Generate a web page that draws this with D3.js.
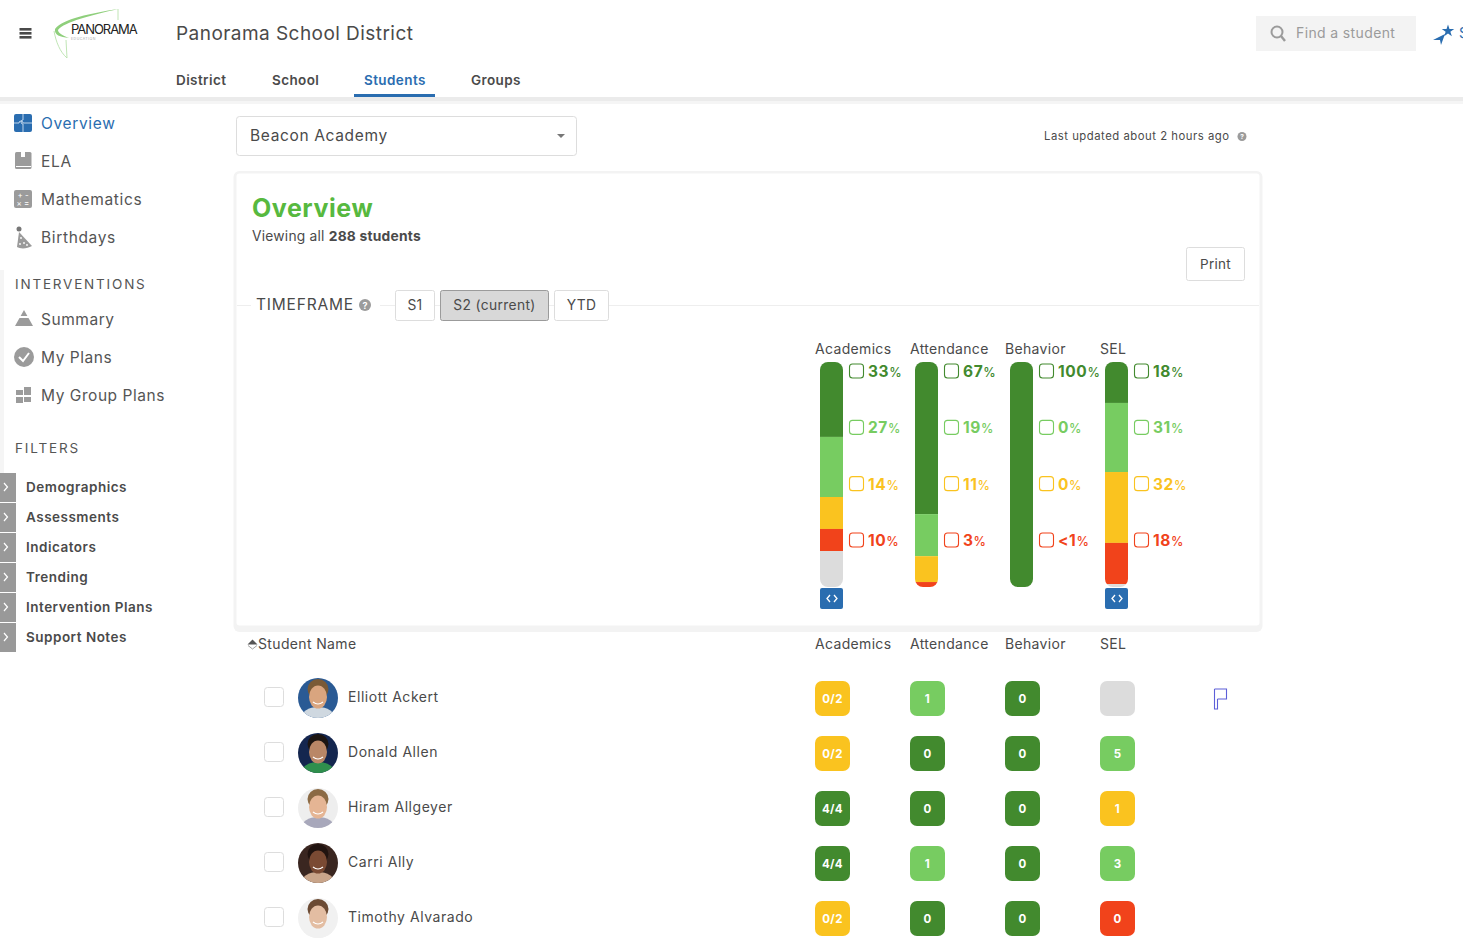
<!DOCTYPE html>
<html>
<head>
<meta charset="utf-8">
<style>
    html, body { margin: 0; padding: 0; background: #fff; overflow: hidden; }
    svg { display: block; }
    text { font-family: Inter, "Open Sans", sans-serif; fill: #4a4a4a; }
</style>
</head>
<body>
<div id="page"></div>
<script src="https://cdn.jsdelivr.net/npm/d3@7"></script>
<script>
// chart values
var measures = ["Academics", "Attendance", "Behavior", "SEL"];
var bands = ["dark", "light", "yellow", "red", "none"];

var academicsShare = [33.3, 26.7, 14.2, 9.8, 16];
var attendanceShare = [67.6, 18.7, 11.5, 2.2, 0];
var behaviorShare = [100, 0, 0, 0, 0];
var selShare = [18.2, 30.7, 31.5, 18.3, 1.3];

var academicsLabels = ["33", "27", "14", "10"];
var attendanceLabels = ["67", "19", "11", "3"];
var behaviorLabels = ["100", "0", "0", "<1"];
var selLabels = ["18", "31", "32", "18"];

var students = ["Elliott Ackert", "Donald Allen", "Hiram Allgeyer", "Carri Ally", "Timothy Alvarado"];
var academicsBadges = ["0/2", "0/2", "4/4", "4/4", "0/2"];
var attendanceBadges = ["1", "0", "0", "1", "0"];
var behaviorBadges = ["0", "0", "0", "0", "0"];
var selBadges = ["", "5", "1", "3", "0"];
var academicsBands = ["yellow", "yellow", "dark", "dark", "yellow"];
var attendanceBands = ["light", "dark", "dark", "light", "dark"];
var behaviorBands = ["dark", "dark", "dark", "dark", "dark"];
var selBands = ["none", "light", "yellow", "light", "red"];

var avatarBack = ["#2a5a94", "#14264f", "#eeeeee", "#3a2620", "#f1f1f1"];
var avatarSkin = ["#d9a57f", "#b98767", "#e5b594", "#7a4a33", "#e3bda2"];
var avatarHair = ["#7a5a36", "#1c1512", "#8b6a44", "#20130f", "#6b4a33"];
var avatarShirt = ["#cfd8e0", "#2f8f4d", "#a8a8bb", "#c9a58a", "#f1f1f1"];

var topTabs = ["District", "School", "Students", "Groups"];
var mainNav = ["Overview", "ELA", "Mathematics", "Birthdays"];
var planNav = ["Summary", "My Plans", "My Group Plans"];
var filters = ["Demographics", "Assessments", "Indicators", "Trending", "Intervention Plans", "Support Notes"];
var timeframes = ["S1", "S2 (current)", "YTD"];

var colors = { dark: "#428a2e", light: "#77cc61", yellow: "#fac31f", red: "#f1431b", none: "#dcdcdc" };
var blue = "#2a6db0";
var iconGrey = "#9b9b9b";

var shares = [academicsShare, attendanceShare, behaviorShare, selShare];
var labels = [academicsLabels, attendanceLabels, behaviorLabels, selLabels];
var badgeText = [academicsBadges, attendanceBadges, behaviorBadges, selBadges];
var badgeBand = [academicsBands, attendanceBands, behaviorBands, selBands];

var svg = d3.select("#page").append("svg").attr("width", 1463).attr("height", 938);
var defs = svg.append("defs");

function label(g, x, y, str, size, opts) {
    opts = opts || {};
    return g.append("text")
        .attr("x", x).attr("y", y)
        .attr("font-size", size)
        .attr("font-weight", opts.weight || 400)
        .attr("text-anchor", opts.anchor || "start")
        .style("letter-spacing", (opts.spacing === undefined ? 0.3 : opts.spacing) + "px")
        .style("fill", opts.fill || "#4a4a4a")
        .text(str);
}

// ---- header
var header = svg.append("g");
header.selectAll("rect.burger").data([0, 1, 2]).enter().append("rect")
    .attr("x", 19.5).attr("y", function (d) { return 28 + d * 4; })
    .attr("width", 12).attr("height", 2.6).attr("fill", "#4a4a4a");

// logo
header.append("path")
    .attr("d", "M118 9 C92 13 62 19 55 29 C54 35 60 37 69 38 C62 35 58 33 58 30 C64 22 92 15 118 9 Z")
    .attr("fill", "#8fcf7c");
header.append("path")
    .attr("d", "M54 31 C56 42 60 52 67 58 L66 40 M118 9 V20")
    .attr("fill", "none").attr("stroke", "#b9e2ad").attr("stroke-width", 0.9);
label(header, 71, 34, "PANORAMA", 13, { spacing: -1.05, fill: "#222" });
label(header, 71, 39.5, "EDUCATION", 3.5, { spacing: 0.5, fill: "#aaa" });

label(header, 176, 40, "Panorama School District", 19, { spacing: 0.45 });

var tabX = d3.scaleOrdinal().domain(topTabs).range([176, 272, 364, 471]);
topTabs.forEach(function (t) {
    label(header, tabX(t), 85, t, 13.5, { weight: 600, fill: t === "Students" ? blue : "#4a4a4a", spacing: 0.4 });
});
header.append("rect").attr("x", 354).attr("y", 94).attr("width", 81).attr("height", 3).attr("fill", blue);
header.append("rect").attr("x", 0).attr("y", 97).attr("width", 1463).attr("height", 4).attr("fill", "#ebebeb");
header.append("rect").attr("x", 0).attr("y", 101).attr("width", 1463).attr("height", 3).attr("fill", "#f5f5f5");

// search box
header.append("rect").attr("x", 1256).attr("y", 16).attr("width", 160).attr("height", 35).attr("fill", "#f3f3f3");
header.append("circle").attr("cx", 1277).attr("cy", 32).attr("r", 5.5)
    .attr("fill", "none").attr("stroke", iconGrey).attr("stroke-width", 2);
header.append("line").attr("x1", 1281).attr("y1", 36).attr("x2", 1285).attr("y2", 41)
    .attr("stroke", iconGrey).attr("stroke-width", 2.4);
label(header, 1296, 38, "Find a student", 14, { fill: "#9b9b9b", spacing: 0.37 });

// star
header.append("path")
    .attr("d", d3.symbol().type(d3.symbolStar).size(48)())
    .attr("transform", "translate(1448,31)").attr("fill", blue);
header.append("path").attr("d", "M1433 40 L1445 34 L1441 45 L1440 40 Z").attr("fill", blue);
label(header, 1459, 38, "S", 14, { fill: blue });

// ---- sidebar
var side = svg.append("g");
side.append("rect").attr("x", 0).attr("y", 270).attr("width", 4).attr("height", 205).attr("fill", "#f5f5f5");

var navY = d3.scalePoint().domain(mainNav).range([123, 237]);
mainNav.forEach(function (n) {
    label(side, 41, navY(n) + 6, n, 15.5, { fill: n === "Overview" ? blue : "#555", spacing: 0.65 });
});
// puzzle icon
side.append("rect").attr("x", 14).attr("y", 114).attr("width", 18).attr("height", 18).attr("rx", 2).attr("fill", blue);
side.append("path").attr("d", "M23 114 V120 a2 2 0 0 0 0 4 V132 M14 123 H19 a2 2 0 0 1 4 0 H32")
    .attr("fill", "none").attr("stroke", "#cfe0f2").attr("stroke-width", 0.9);
// book icon
side.append("rect").attr("x", 15).attr("y", 152).attr("width", 16.5).attr("height", 17).attr("rx", 1.5).attr("fill", iconGrey);
side.append("rect").attr("x", 21).attr("y", 152).attr("width", 4).attr("height", 5).attr("fill", "#fff");
side.append("rect").attr("x", 16).attr("y", 166).attr("width", 15).attr("height", 1).attr("fill", "#fff");
side.append("rect").attr("x", 14).attr("y", 190).attr("width", 18).attr("height", 18).attr("rx", 2).attr("fill", iconGrey);
side.selectAll("text.mth").data(["+ -", "× ="]).enter().append("text")
    .attr("x", 23).attr("y", function (d, i) { return 198 + i * 8; })
    .attr("text-anchor", "middle").attr("font-size", 8).style("fill", "#fff").text(function (d) { return d; });
// party hat
side.append("path").attr("d", "M19 232 L32 246 C27 249 20 249 17 247 Z").attr("fill", iconGrey);
side.append("circle").attr("cx", 19).attr("cy", 229).attr("r", 2.5).attr("fill", "#777");
side.selectAll("circle.dot").data([[21, 238], [24, 243], [20, 244], [27, 245]]).enter().append("circle")
    .attr("cx", function (d) { return d[0]; }).attr("cy", function (d) { return d[1]; })
    .attr("r", 0.9).attr("fill", "#fff");

label(side, 15, 289, "INTERVENTIONS", 13.5, { fill: "#555", spacing: 1.8 });
var planY = d3.scalePoint().domain(planNav).range([319, 395]);
planNav.forEach(function (n) {
    label(side, 41, planY(n) + 6, n, 15.5, { fill: "#555", spacing: 0.55 });
});
side.append("path").attr("d", "M24 310 L33 326 L15 326 Z").attr("fill", iconGrey);
side.append("rect").attr("x", 15).attr("y", 316).attr("width", 18).attr("height", 2).attr("fill", "#fff");
side.append("circle").attr("cx", 24).attr("cy", 357).attr("r", 10).attr("fill", iconGrey);
side.append("path").attr("d", "M19 357 L23 361 L29 353").attr("fill", "none").attr("stroke", "#fff").attr("stroke-width", 2);
side.selectAll("rect.grp").data([[16, 390, 7, 5], [24, 387, 7, 8], [16, 397, 7, 6], [24, 397, 7, 5]]).enter().append("rect")
    .attr("x", function (d) { return d[0]; }).attr("y", function (d) { return d[1]; })
    .attr("width", function (d) { return d[2]; }).attr("height", function (d) { return d[3]; })
    .attr("fill", iconGrey);

label(side, 15, 453, "FILTERS", 13.5, { fill: "#555", spacing: 1.85 });
var filterY = d3.scaleBand().domain(filters).range([473, 653]);
filters.forEach(function (f) {
    var y = filterY(f);
    side.append("rect").attr("x", 0).attr("y", y).attr("width", 16).attr("height", filterY.bandwidth() - 1).attr("fill", "#999");
    side.append("path").attr("d", "M4 " + (y + 10) + " l3.5 4 l-3.5 4")
        .attr("fill", "none").attr("stroke", "#fff").attr("stroke-width", 1.2);
    label(side, 26, y + 19, f, 13.5, { weight: 600, spacing: 0.5 });
});

// ---- school select
var top_ = svg.append("g");
top_.append("rect").attr("x", 236.5).attr("y", 116.5).attr("width", 340).attr("height", 39).attr("rx", 3)
    .attr("fill", "#fff").attr("stroke", "#dddddd");
label(top_, 250, 141, "Beacon Academy", 15.5, { spacing: 0.65 });
top_.append("path").attr("d", "M557 134 h8 l-4 4 z").attr("fill", "#777");
label(top_, 1044, 140, "Last updated about 2 hours ago", 11.3, { spacing: 0.52 });
top_.append("circle").attr("cx", 1242).attr("cy", 136.5).attr("r", 4.5).attr("fill", iconGrey);
label(top_, 1242, 139, "?", 6.5, { anchor: "middle", fill: "#fff", weight: 700, spacing: 0 });

// ---- card
var card = svg.append("g");
card.append("rect").attr("x", 233.5).attr("y", 171).attr("width", 1029).attr("height", 461).attr("rx", 6)
    .attr("fill", "#f3f3f3");
card.append("rect").attr("x", 236.5).attr("y", 173.5).attr("width", 1023).attr("height", 452).attr("rx", 3)
    .attr("fill", "#fff");
label(card, 252, 217, "Overview", 25, { weight: 700, fill: "#57b93f", spacing: 0.55 });
var viewing = label(card, 252, 241, "Viewing all ", 13.8, { spacing: 0.22 });
viewing.append("tspan").attr("font-weight", 700).text("288 students");

card.append("rect").attr("x", 1186.5).attr("y", 247.5).attr("width", 58).attr("height", 33).attr("rx", 2)
    .attr("fill", "#fff").attr("stroke", "#ddd");
label(card, 1215.5, 269, "Print", 13.5, { anchor: "middle" });

// timeframe row
card.append("line").attr("x1", 237).attr("x2", 1259).attr("y1", 305.5).attr("y2", 305.5).attr("stroke", "#eeeeee");
card.append("rect").attr("x", 251).attr("y", 295).attr("width", 129).attr("height", 20).attr("fill", "#fff");
label(card, 256, 310, "TIMEFRAME", 15.5, { spacing: 0.8 });
card.append("circle").attr("cx", 365).attr("cy", 305).attr("r", 6).attr("fill", iconGrey);
label(card, 365, 308.5, "?", 9, { anchor: "middle", fill: "#fff", weight: 700, spacing: 0 });
var tfLeft = d3.scaleOrdinal().domain(timeframes).range([395, 440, 554]);
var tfWidth = d3.scaleOrdinal().domain(timeframes).range([40, 109, 55]);
timeframes.forEach(function (t) {
    var on = t === "S2 (current)";
    card.append("rect").attr("x", tfLeft(t) + 0.5).attr("y", 290.5).attr("width", tfWidth(t) - 1).attr("height", 30).attr("rx", 2)
        .attr("fill", on ? "#d8d8d8" : "#fff").attr("stroke", on ? "#9b9b9b" : "#dddddd");
    label(card, tfLeft(t) + tfWidth(t) / 2, 310, t, 13.8, { anchor: "middle", spacing: 0.35 });
});

// ---- stacked bars
var x = d3.scaleBand().domain(measures).range([815, 1195]).paddingInner(0).paddingOuter(0);
var y = d3.scaleLinear().domain([0, 100]).range([362, 587]);
var barW = 23;
var barX = function (m) { return x(m) + 5; };
var legendY = d3.scalePoint().domain(bands.slice(0, 4)).range([371, 540]);

var chart = svg.append("g");
measures.forEach(function (m, i) {
    label(chart, x(m), 354, m, 14, { spacing: 0.33 });

    var stack = [];
    var acc = 0;
    shares[i].forEach(function (v, j) {
        stack.push({ band: bands[j], from: acc, to: acc + v });
        acc += v;
    });

    defs.append("clipPath").attr("id", "bar-" + i).append("rect")
        .attr("x", barX(m)).attr("y", y(0)).attr("width", barW).attr("height", y(100) - y(0)).attr("rx", 8);

    chart.append("g").attr("clip-path", "url(#bar-" + i + ")")
        .selectAll("rect").data(stack.filter(function (d) { return d.to > d.from; })).enter().append("rect")
        .attr("x", barX(m)).attr("width", barW)
        .attr("y", function (d) { return y(d.from); })
        .attr("height", function (d) { return y(d.to) - y(d.from); })
        .attr("fill", function (d) { return colors[d.band]; });

    // legend
    bands.slice(0, 4).forEach(function (b, j) {
        var ly = legendY(b);
        chart.append("rect").attr("x", barX(m) + 29.5).attr("y", ly - 7).attr("width", 14).attr("height", 14).attr("rx", 3)
            .attr("fill", "#fff").attr("stroke", colors[b]).attr("stroke-width", 1.1);
        var t = label(chart, barX(m) + 48, ly + 6, labels[i][j], 15.5, { weight: 700, fill: colors[b], spacing: 0.6 });
        t.append("tspan").attr("font-size", 12.5).attr("font-weight", 500).text("%");
    });

    // expand toggle, only on measures that have a blank share
    if (shares[i][4] > 0) {
        chart.append("rect").attr("x", barX(m)).attr("y", 588).attr("width", barW).attr("height", 21).attr("rx", 2).attr("fill", blue);
        chart.append("path")
            .attr("d", "M" + (barX(m) + 10) + " 595 l-3 3.5 l3 3.5 M" + (barX(m) + 14) + " 595 l3 3.5 l-3 3.5")
            .attr("fill", "none").attr("stroke", "#fff").attr("stroke-width", 1.3);
    }
});

// ---- student table
var table = svg.append("g");
table.append("path").attr("d", "M247.5 644.5 l5 -5 l5 5 z").attr("fill", "#555");
table.append("path").attr("d", "M248 645.5 l4.5 3.5 l4.5 -3.5").attr("fill", "none").attr("stroke", "#888").attr("stroke-width", 0.8);
label(table, 258, 649, "Student Name", 14, { spacing: 0.35 });
measures.forEach(function (m) {
    label(table, x(m), 649, m, 14, { spacing: 0.33 });
});

var rowY = d3.scalePoint().domain(students).range([698, 918]);
students.forEach(function (s, r) {
    var cy = rowY(s);
    table.append("rect").attr("x", 264.5).attr("y", cy - 10.5).attr("width", 19).attr("height", 19).attr("rx", 3)
        .attr("fill", "#fff").attr("stroke", "#dddddd");

    // avatar, drawn from circles as the photos are not available
    defs.append("clipPath").attr("id", "av-" + r).append("circle").attr("cx", 318).attr("cy", cy).attr("r", 20);
    var av = table.append("g").attr("clip-path", "url(#av-" + r + ")");
    av.append("rect").attr("x", 298).attr("y", cy - 20).attr("width", 40).attr("height", 40).attr("fill", avatarBack[r]);
    av.append("ellipse").attr("cx", 318).attr("cy", cy + 20).attr("rx", 17).attr("ry", 11).attr("fill", avatarShirt[r]);
    av.append("ellipse").attr("cx", 318).attr("cy", cy - 9).attr("rx", 10.5).attr("ry", 10).attr("fill", avatarHair[r]);
    av.append("ellipse").attr("cx", 318).attr("cy", cy - 1).attr("rx", 9).attr("ry", 11.5).attr("fill", avatarSkin[r]);
    av.append("path").attr("d", "M313 " + (cy + 4) + " q5 4 10 0").attr("fill", "none").attr("stroke", "#fff").attr("stroke-width", 1.2);

    label(table, 348, cy + 4, s, 14, { spacing: 0.55 });

    measures.forEach(function (m, i) {
        table.append("rect").attr("x", x(m)).attr("y", cy - 17).attr("width", 35).attr("height", 35).attr("rx", 7)
            .attr("fill", colors[badgeBand[i][r]]);
        label(table, x(m) + 17.5, cy + 4.5, badgeText[i][r], 11.5, { anchor: "middle", weight: 700, fill: "#fff", spacing: 0.3 });
    });
});

// flag on first row
table.append("path")
    .attr("d", "M1214.5 689 h12 v10 h-9 M1217.5 699 v10 h-3 v-20")
    .attr("fill", "none").attr("stroke", "#5d5fd8").attr("stroke-width", 1.1);
</script>
</body>
</html>
